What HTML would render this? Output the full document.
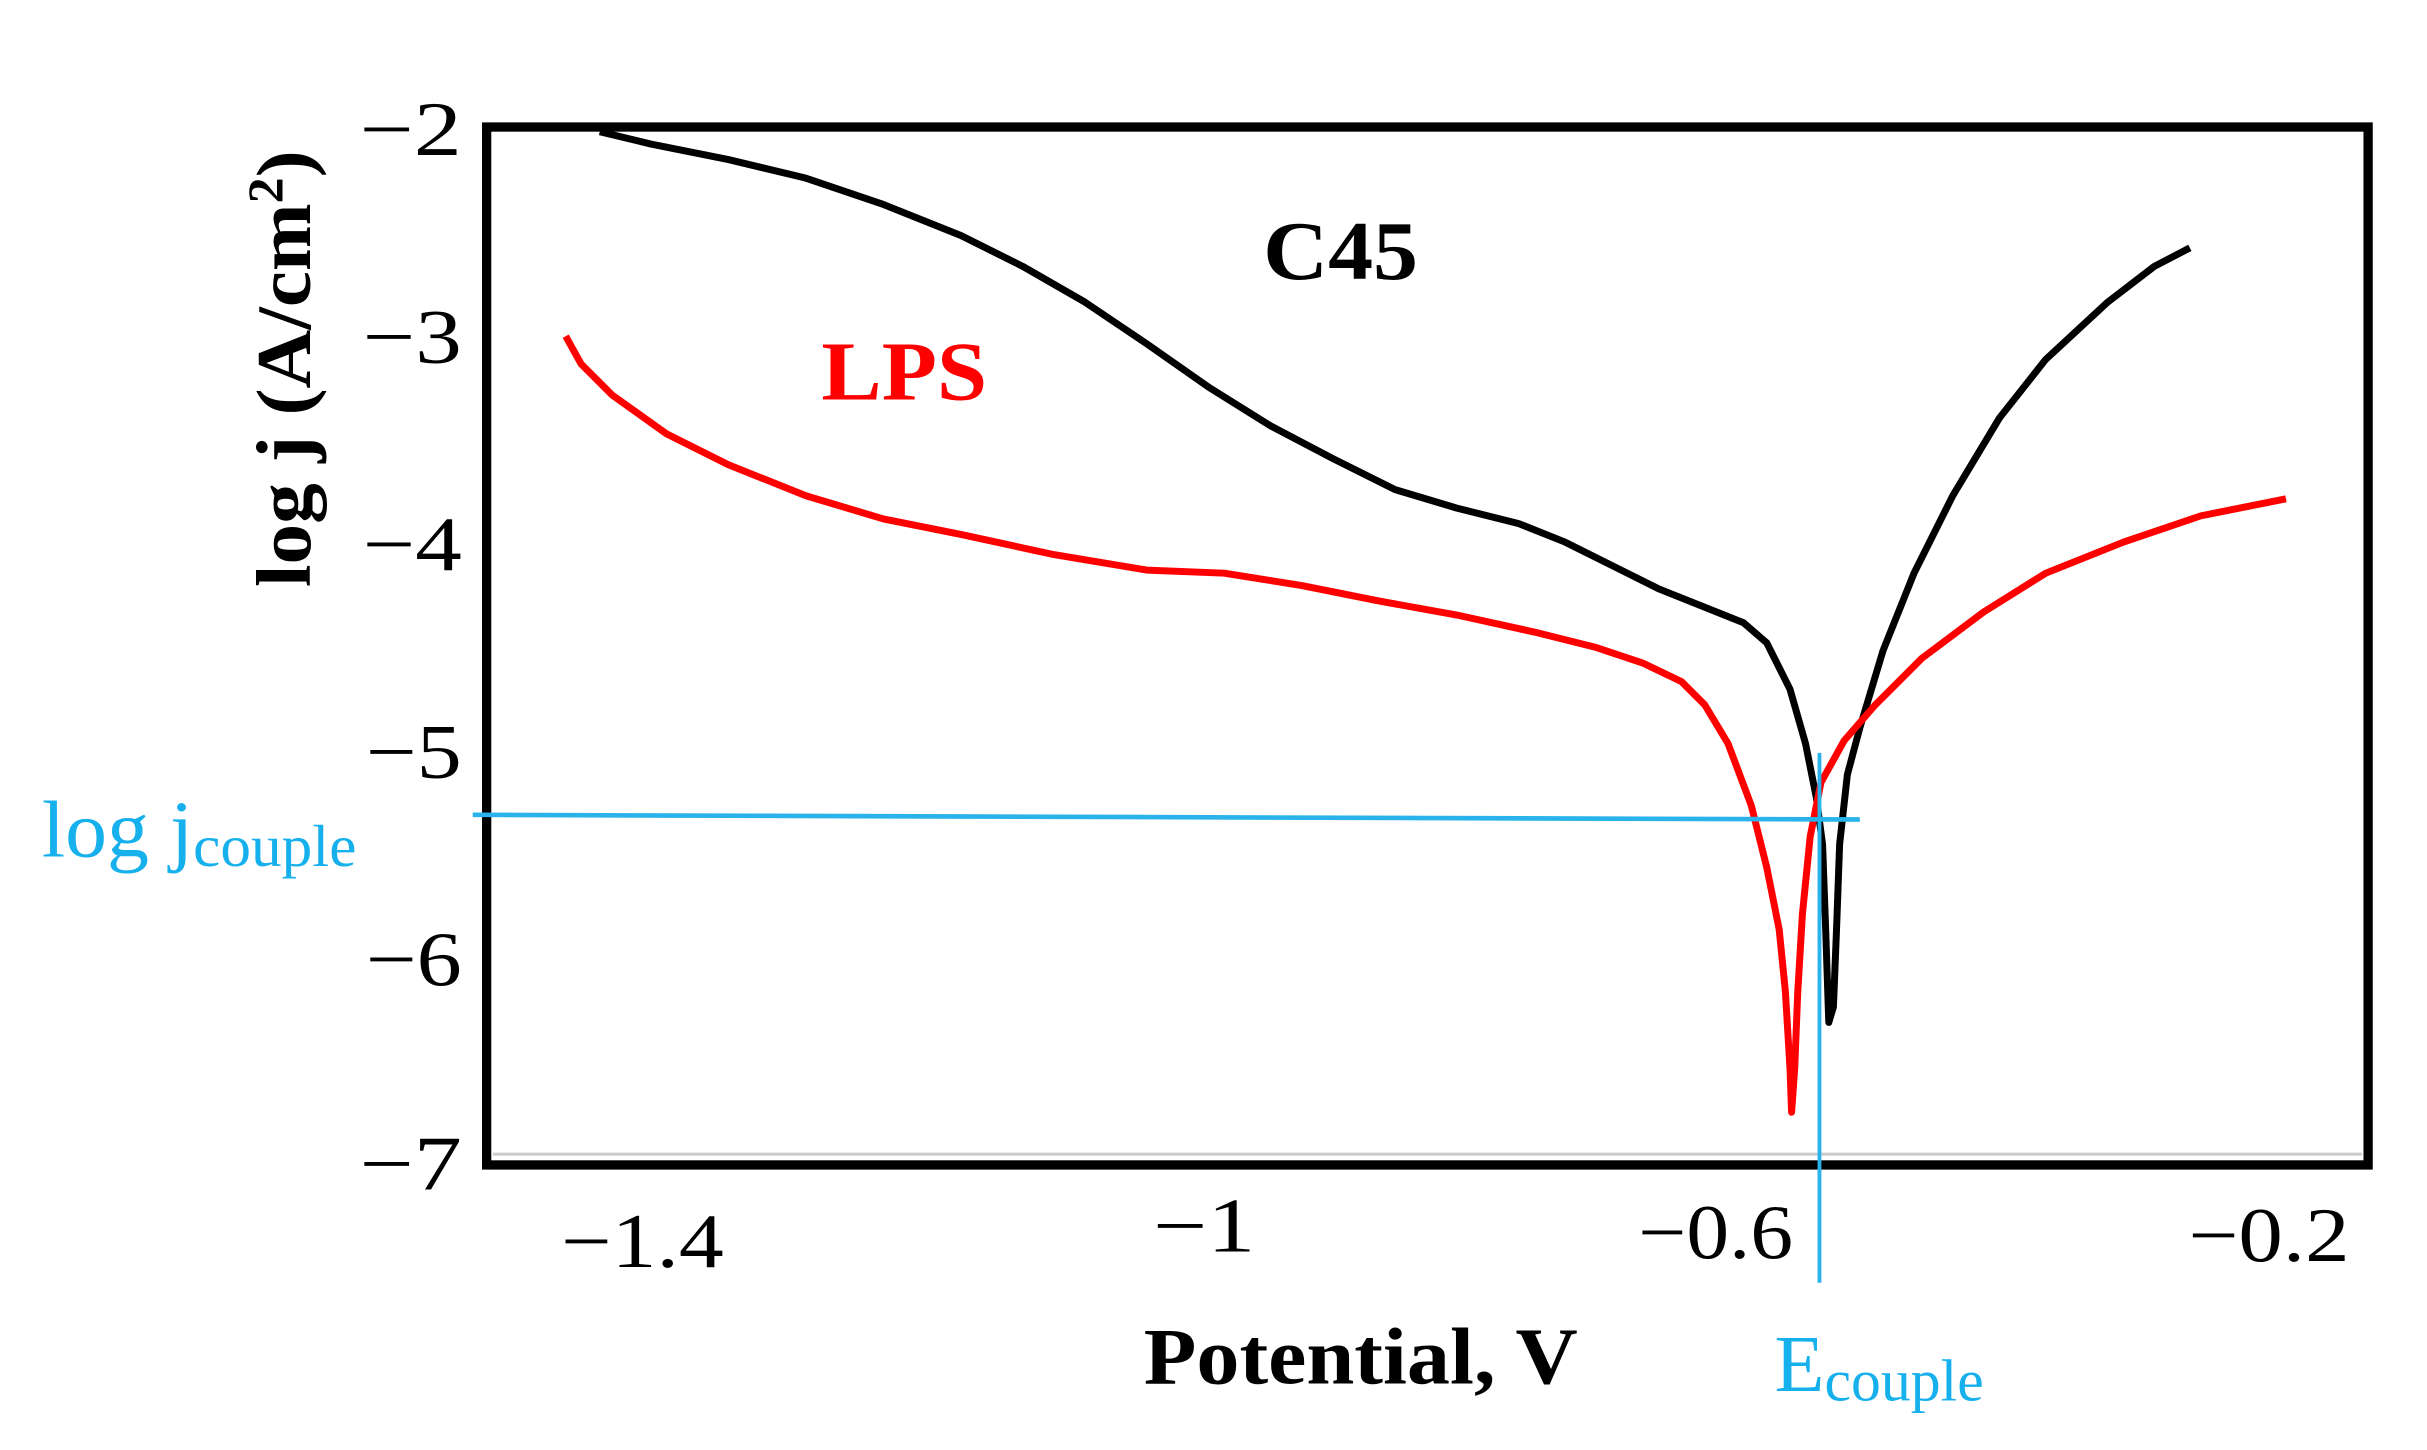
<!DOCTYPE html>
<html><head><meta charset="utf-8"><style>
html,body{margin:0;padding:0;background:#fff;}
svg{display:block;}
text{font-family:"Liberation Serif",serif;}
</style></head><body>
<svg width="2427" height="1450" viewBox="0 0 1566 936" preserveAspectRatio="none" xmlns="http://www.w3.org/2000/svg">
<rect x="0" y="0" width="1566" height="936" fill="#fff"/>
<rect x="314" y="82" width="1214" height="670" fill="none" stroke="#000" stroke-width="6"/>
<line x1="318" y1="745" x2="1524" y2="745" stroke="#ccc" stroke-width="2"/>
<g font-size="50" fill="#000">
<text x="232" y="100" textLength="66" lengthAdjust="spacingAndGlyphs">−2</text>
<text x="234" y="234" textLength="64" lengthAdjust="spacingAndGlyphs">−3</text>
<text x="234" y="368" textLength="64" lengthAdjust="spacingAndGlyphs">−4</text>
<text x="236" y="502" textLength="62" lengthAdjust="spacingAndGlyphs">−5</text>
<text x="236" y="636" textLength="62" lengthAdjust="spacingAndGlyphs">−6</text>
<text x="232" y="768" textLength="66" lengthAdjust="spacingAndGlyphs">−7</text>
<text x="362" y="818" textLength="105" lengthAdjust="spacingAndGlyphs">−1.4</text>
<text x="744" y="808" textLength="66" lengthAdjust="spacingAndGlyphs">−1</text>
<text x="1057" y="812" textLength="100" lengthAdjust="spacingAndGlyphs">−0.6</text>
<text x="1412" y="814" textLength="104" lengthAdjust="spacingAndGlyphs">−0.2</text>
</g>
<text x="0" y="0" font-size="50" font-weight="bold" text-anchor="middle" transform="translate(200,238) rotate(-90)" textLength="282" lengthAdjust="spacingAndGlyphs">log j (A/cm<tspan font-size="32" dy="-18">2</tspan><tspan dy="18">)</tspan></text>
<text x="738" y="893" font-size="52" font-weight="bold" textLength="280" lengthAdjust="spacingAndGlyphs">Potential, V</text>
<text x="815" y="180" font-size="54" font-weight="bold" textLength="100" lengthAdjust="spacingAndGlyphs">C45</text>
<text x="530" y="258" font-size="54" font-weight="bold" fill="#ff0000" textLength="107" lengthAdjust="spacingAndGlyphs">LPS</text>
<polyline fill="none" stroke="#000" stroke-width="4.5" stroke-linejoin="round" points="387,85 420,93 470,103 520,115 570,132 620,152 660,172 700,195 740,222 780,250 820,275 860,296 900,316 940,328 980,338 1010,350 1040,365 1070,380 1100,392 1125,402 1140,415 1155,445 1165,480 1172,515 1176,545 1178,600 1180,660 1183,650 1185,600 1187,545 1192,500 1200,470 1215,420 1235,370 1260,320 1290,270 1320,232 1360,195 1390,172 1413,160"/>
<polyline fill="none" stroke="#ff0000" stroke-width="4.5" stroke-linejoin="round" points="365,217 375,235 395,255 430,280 470,300 520,320 570,335 620,345 680,358 740,368 790,370 840,378 890,388 940,397 990,408 1030,418 1060,428 1085,440 1100,455 1115,480 1130,520 1140,560 1148,600 1152,640 1155,690 1156,718 1158,690 1160,640 1163,590 1168,540 1175,505 1190,478 1210,455 1240,425 1280,395 1320,370 1370,350 1420,333 1475,322"/>
<line x1="305" y1="526" x2="1200" y2="529" stroke="#29b3ea" stroke-width="3"/>
<line x1="1174" y1="486" x2="1174" y2="828" stroke="#29b3ea" stroke-width="2.5"/>
<text x="27" y="553" font-size="52" fill="#16b0ec" textLength="203" lengthAdjust="spacingAndGlyphs">log j<tspan font-size="38" dy="6">couple</tspan></text>
<text x="1145" y="898" font-size="52" fill="#16b0ec" textLength="135" lengthAdjust="spacingAndGlyphs">E<tspan font-size="38" dy="6">couple</tspan></text>
</svg>
</body></html>
